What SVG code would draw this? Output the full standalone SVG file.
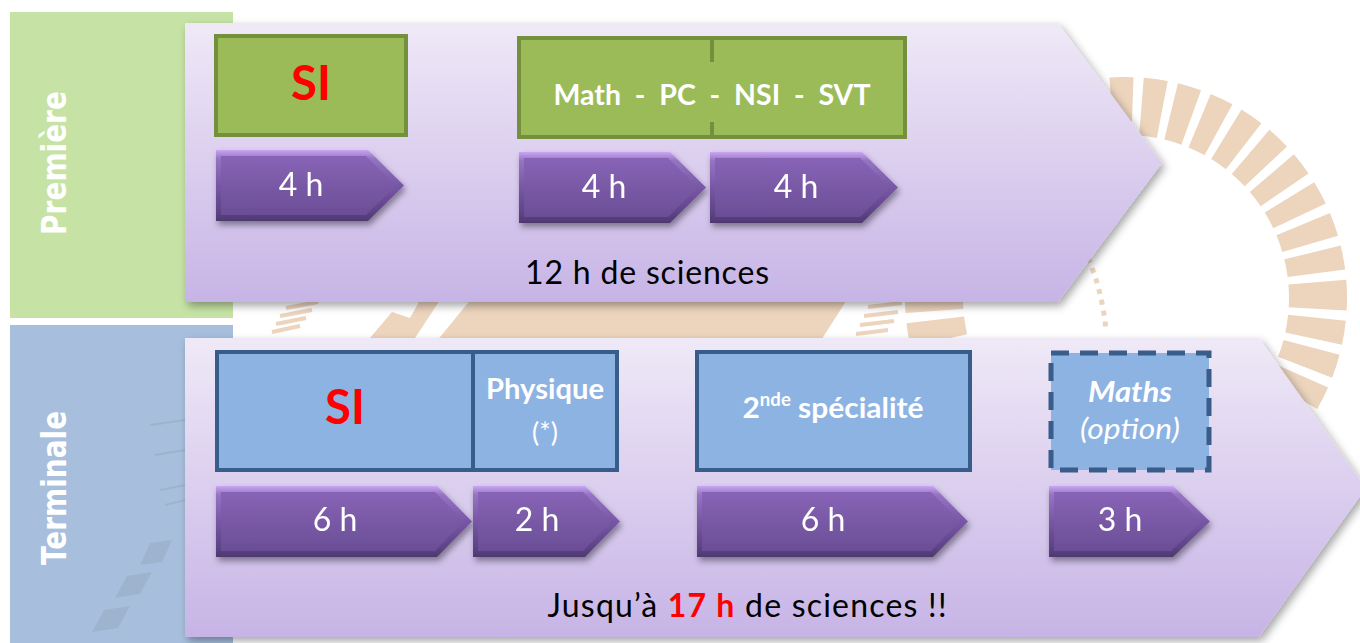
<svg xmlns="http://www.w3.org/2000/svg" width="1360" height="643" viewBox="0 0 1360 643">
<defs>
<style>
.lbl{font-family:"DejaVu Sans",Verdana,sans-serif;font-weight:bold;font-size:28px;fill:#ffffff;text-anchor:middle}
.hr{font-family:Lato,"Liberation Sans",sans-serif;font-size:32px;fill:#ffffff;text-anchor:middle}
.bx{font-family:Lato,"Liberation Sans",sans-serif;font-weight:bold;fill:#ffffff;text-anchor:middle}
.si{font-family:Lato,"Liberation Sans",sans-serif;font-weight:bold;font-size:47px;fill:#ff0000;text-anchor:middle}
.tot{font-family:Lato,"Liberation Sans",sans-serif;font-size:32px;fill:#000000;text-anchor:middle}
.gbox{fill:#9bbb59;stroke:#74903d;stroke-width:4}
.bbox{fill:#8db3e2;stroke:#385d8a;stroke-width:4}
.wm{fill:#ecd4bd}
.wml{stroke:#ecd4bd;stroke-width:4;fill:none}
.gr{fill:#8a97a8;opacity:.3}
.grl{stroke:#8a97a8;stroke-width:2;opacity:.3}
.aro{fill:url(#bevel)}
.ari{fill:url(#purp)}
</style>
<linearGradient id="chev" x1="0" y1="0" x2="0" y2="1">
<stop offset="0" stop-color="#efe9f7"/>
<stop offset="1" stop-color="#c7b4e6"/>
</linearGradient>
<linearGradient id="purp" x1="0" y1="0" x2="0" y2="1">
<stop offset="0" stop-color="#8864b6"/>
<stop offset="1" stop-color="#6a4e96"/>
</linearGradient>
<linearGradient id="bevel" x1="0" y1="0" x2="0" y2="1">
<stop offset="0" stop-color="#c9a5f2"/>
<stop offset="0.12" stop-color="#9574c4"/>
<stop offset="0.5" stop-color="#7757a5"/>
<stop offset="0.88" stop-color="#5c4283"/>
<stop offset="1" stop-color="#4e3870"/>
</linearGradient>
<filter id="sh" x="-5%" y="-10%" width="115%" height="130%">
<feDropShadow dx="3" dy="4" stdDeviation="4" flood-color="#000" flood-opacity="0.35"/>
</filter>
<filter id="ash" x="-10%" y="-20%" width="125%" height="150%">
<feDropShadow dx="2" dy="4" stdDeviation="3" flood-color="#000" flood-opacity="0.4"/>
</filter>
</defs>

<rect width="1360" height="643" fill="#ffffff"/>

<!-- background watermark -->
<g id="watermark">
<circle cx="1126" cy="298" r="192" fill="none" stroke="#ecd4bd" stroke-width="58" stroke-dasharray="21 9" transform="rotate(-3 1126 298)"/>
<path d="M1088,258 Q1102,290 1106,330" fill="none" stroke="#ecd4bd" stroke-width="5" stroke-dasharray="5 6"/>
<polygon class="wm" points="472,298 848,298 820,342 436,342"/>
<polygon class="wm" points="370,338 392,312 410,318 420,300 440,300 415,338"/>
<line class="wml" x1="272" y1="332" x2="300" y2="326"/>
<line class="wml" x1="276" y1="324" x2="306" y2="318"/>
<line class="wml" x1="280" y1="316" x2="312" y2="310"/>
<line class="wml" x1="286" y1="308" x2="318" y2="302"/>
<line class="wml" x1="856" y1="334" x2="888" y2="330"/>
<line class="wml" x1="860" y1="325" x2="894" y2="321"/>
<line class="wml" x1="864" y1="316" x2="898" y2="312"/>
<line class="wml" x1="868" y1="307" x2="902" y2="303"/>
</g>

<!-- Première row -->
<g id="panel-premiere">
<rect x="10" y="12" width="223" height="306" fill="#c6e3a5"/>
<text class="lbl" transform="translate(66,163) rotate(-90) scale(1,1.2)">Première</text>
</g>
<g id="chevron-premiere">
<polygon points="185,23 1058,23 1162,163 1058,302 185,302" fill="url(#chev)" filter="url(#sh)"/>
</g>

<!-- Terminale row -->
<g id="panel-terminale">
<rect x="10" y="325" width="223" height="318" fill="#a7bfdd"/>
<line class="grl" x1="150" y1="425" x2="185" y2="420"/>
<line class="grl" x1="155" y1="455" x2="185" y2="450"/>
<line class="grl" x1="160" y1="490" x2="185" y2="485"/>
<line class="grl" x1="165" y1="505" x2="185" y2="500"/>
<polygon class="gr" points="140,565 150,543 172,540 162,562"/>
<polygon class="gr" points="115,598 127,576 152,572 140,594"/>
<polygon class="gr" points="92,632 104,610 130,606 118,628"/>
<text class="lbl" transform="translate(66,488) rotate(-90) scale(1,1.2)">Terminale</text>
</g>
<g id="chevron-terminale">
<polygon points="185,338 1259,338 1366,488 1259,637 185,637" fill="url(#chev)" filter="url(#sh)"/>
</g>

<!-- Première nodes -->
<g id="box-si-1">
<rect class="gbox" x="216" y="36" width="190" height="99"/>
<text class="si" x="311" y="100" textLength="40" lengthAdjust="spacingAndGlyphs">SI</text>
</g>
<g id="box-math-pc-nsi-svt">
<rect class="gbox" x="519" y="38" width="386" height="99"/>
<line x1="712" y1="38" x2="712" y2="62" stroke="#74903d" stroke-width="4"/>
<line x1="712" y1="122" x2="712" y2="137" stroke="#74903d" stroke-width="4"/>
<text class="bx" x="712" y="105" font-size="28" style="white-space:pre" textLength="317" lengthAdjust="spacingAndGlyphs">Math  -  PC  -  NSI  -  SVT</text>
</g>
<g id="arrow-p1" filter="url(#ash)">
<polygon class="aro" points="216,150 368,150 404,185.5 368,221 216,221"/>
<polygon class="ari" points="221,156 366,156 396,185.5 366,215 221,215"/>
<text class="hr" x="301" y="196">4 h</text>
</g>
<g id="arrow-p2" filter="url(#ash)">
<polygon class="aro" points="519,152 670,152 706,187.5 670,223 519,223"/>
<polygon class="ari" points="524,158 668,158 698,187.5 668,217 524,217"/>
<text class="hr" x="604" y="198">4 h</text>
</g>
<g id="arrow-p3" filter="url(#ash)">
<polygon class="aro" points="710,152 862,152 898,187.5 862,223 710,223"/>
<polygon class="ari" points="715,158 860,158 890,187.5 860,217 715,217"/>
<text class="hr" x="796" y="198">4 h</text>
</g>
<g id="total-premiere">
<text class="tot" x="647" y="284" textLength="244">12 h de sciences</text>
</g>

<!-- Terminale nodes -->
<g id="box-si-2">
<rect class="bbox" x="217" y="352" width="256" height="118"/>
<text class="si" x="345" y="424" textLength="40" lengthAdjust="spacingAndGlyphs">SI</text>
</g>
<g id="box-physique">
<rect class="bbox" x="473" y="352" width="144" height="118"/>
<text class="bx" x="545" y="399" font-size="28" textLength="118" lengthAdjust="spacingAndGlyphs">Physique</text>
<text x="545" y="442" font-family="Lato,'Liberation Sans',sans-serif" font-size="27" fill="#ffffff" text-anchor="middle">(*)</text>
</g>
<g id="box-2nde-specialite">
<rect class="bbox" x="697" y="352" width="273" height="118"/>
<text class="bx" x="833" y="418" font-size="29" textLength="181" lengthAdjust="spacingAndGlyphs">2<tspan font-size="18" dy="-12">nde</tspan><tspan dy="12"> spécialité</tspan></text>
</g>
<g id="box-maths-option">
<rect x="1051" y="353" width="158" height="117" fill="#8db3e2" stroke="#385d8a" stroke-width="5" stroke-dasharray="18 11"/>
<text class="bx" x="1130" y="402" font-size="29" font-style="italic" textLength="84" lengthAdjust="spacingAndGlyphs">Maths</text>
<text x="1130" y="439" font-family="Lato,'Liberation Sans',sans-serif" font-size="29" font-style="italic" fill="#ffffff" text-anchor="middle" textLength="100" lengthAdjust="spacingAndGlyphs">(option)</text>
</g>
<g id="arrow-t1" filter="url(#ash)">
<polygon class="aro" points="216,486 437,486 472,521.5 437,557 216,557"/>
<polygon class="ari" points="221,492 435,492 464,521.5 435,551 221,551"/>
<text class="hr" x="335" y="531">6 h</text>
</g>
<g id="arrow-t2" filter="url(#ash)">
<polygon class="aro" points="473,486 585,486 620,521.5 585,557 473,557"/>
<polygon class="ari" points="478,492 583,492 612,521.5 583,551 478,551"/>
<text class="hr" x="537" y="531">2 h</text>
</g>
<g id="arrow-t3" filter="url(#ash)">
<polygon class="aro" points="697,486 933,486 968,521.5 933,557 697,557"/>
<polygon class="ari" points="702,492 931,492 960,521.5 931,551 702,551"/>
<text class="hr" x="823" y="531">6 h</text>
</g>
<g id="arrow-t4" filter="url(#ash)">
<polygon class="aro" points="1049,486 1173,486 1210,521.5 1173,557 1049,557"/>
<polygon class="ari" points="1054,492 1171,492 1202,521.5 1171,551 1054,551"/>
<text class="hr" x="1120" y="531">3 h</text>
</g>
<g id="total-terminale">
<text class="tot" x="747" y="617" textLength="399">Jusqu’à <tspan fill="#ff0000" font-weight="bold">17 h</tspan> de sciences !!</text>
</g>

<g id="connectors"/>
</svg>
